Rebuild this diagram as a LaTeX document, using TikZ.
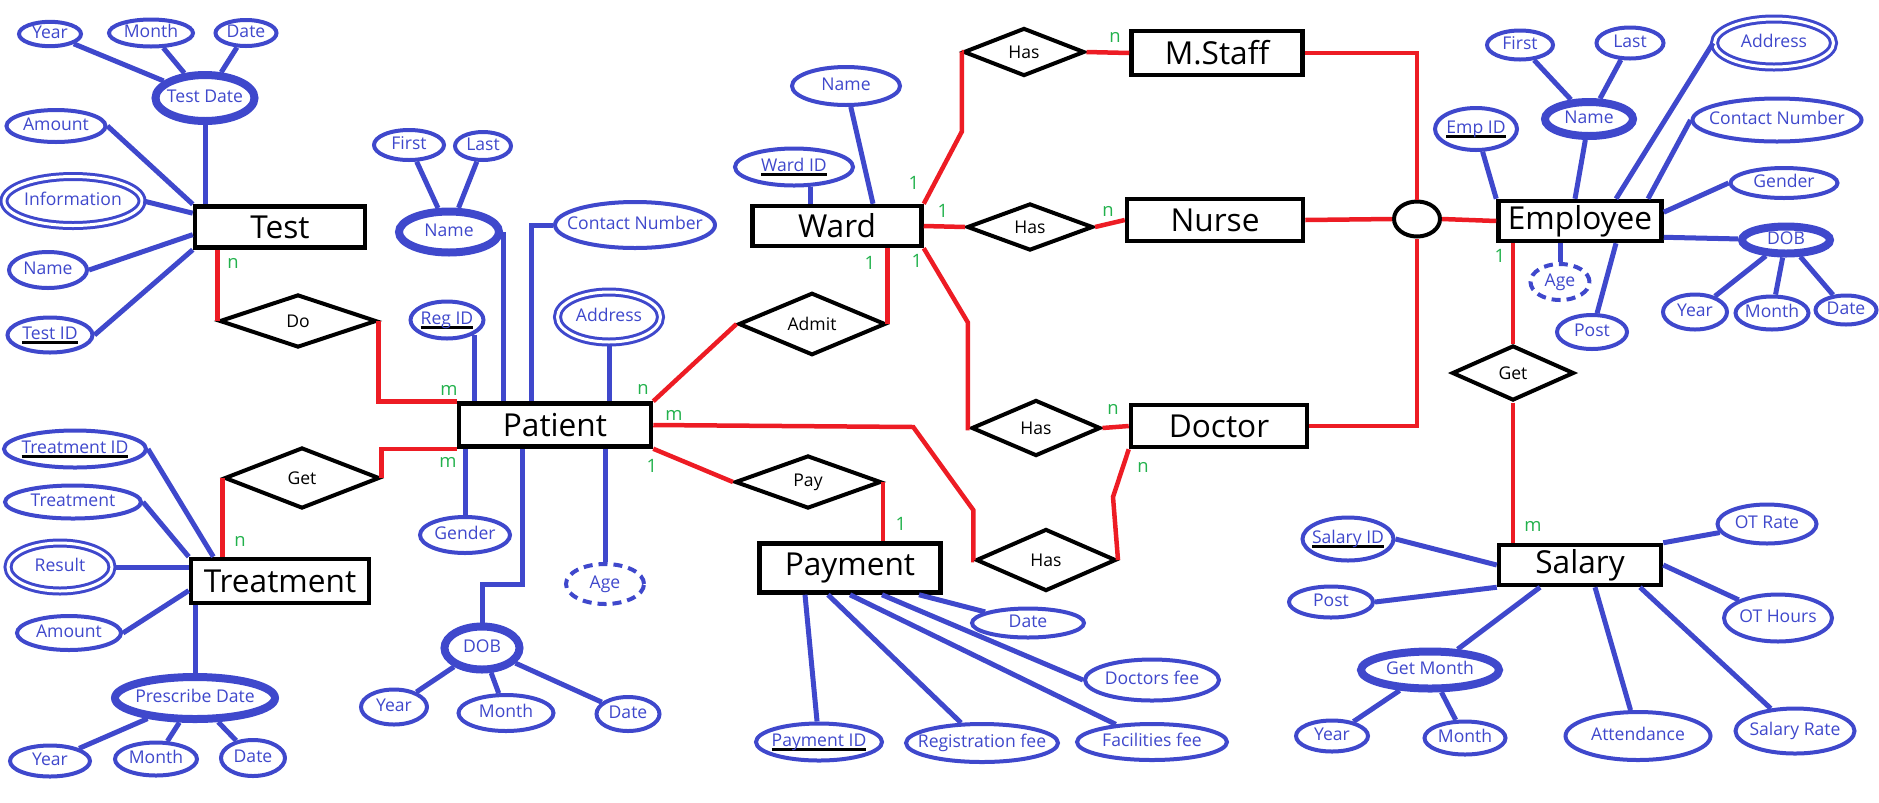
\documentclass[tikz,border=0pt]{standalone}
\usepackage{fontspec}
\setmainfont{Open Sans}
\usetikzlibrary{shapes.geometric}
\definecolor{erblue}{RGB}{63,72,204}
\definecolor{erred}{RGB}{237,28,36}
\definecolor{ergreen}{RGB}{34,177,76}
\newdimen\pxl
\pxl=0.02cm
\newcommand{\attrfont}{\fontsize{10}{12}\selectfont}
\newcommand{\entfont}{\fontsize{18}{21}\selectfont}
\newcommand{\relfont}{\fontsize{10}{12}\selectfont}
\newcommand{\cardfont}{\fontsize{10.5}{12}\selectfont}
\newcommand{\zt}[1]{\hbox to 0pt{\hss#1\hss}}
\newcommand{\kt}[1]{\zt{\setbox0\hbox{#1}\rlap{\color{black}\rule[-2.2pt]{\wd0}{1.3pt}}\box0}}
\tikzset{
  sz/.style 2 args={minimum width=#1\pxl, minimum height=#2\pxl},
  attr/.style={ellipse, draw=erblue, line width=4\pxl, fill=white, text=erblue,
    inner sep=0pt, font=\attrfont, text height=7.6pt, text depth=2.2pt},
  multi/.style={attr, line width=8\pxl},
  dattr/.style={attr, line width=3\pxl, double=white, double distance=3\pxl},
  derived/.style={attr, dash pattern=on 9\pxl off 6\pxl},
  entity/.style={rectangle, draw=black, line width=4.5\pxl, fill=white, inner sep=0pt, font=\entfont},
  rel/.style={diamond, draw=black, line width=4\pxl, fill=white, inner sep=0pt, font=\relfont},
  isa/.style={ellipse, draw=black, line width=4\pxl, fill=white, inner sep=0pt},
  link/.style={draw=erblue, line width=5\pxl},
  rlink/.style={draw=erred, line width=4.5\pxl},
  card/.style={text=ergreen, inner sep=0pt, font=\cardfont}
}

\begin{document}
\begin{tikzpicture}[x=0.02cm, y=-0.02cm]
  \useasboundingbox (0,0) rectangle (1879,802);

  \node[entity, sz={170}{41}] (test) at (280,227) {Test};
  \node[entity, sz={192}{43}] (patient) at (555,425) {Patient};
  \node[entity, sz={178}{44}] (treatment) at (280,581) {Treatment};
  \node[entity, sz={169}{40}] (ward) at (837,226) {Ward};
  \node[entity, sz={181}{49}] (payment) at (850,568) {Payment};
  \node[entity, sz={171}{44}] (mstaff) at (1217,53) {M.Staff};
  \node[entity, sz={176}{42}] (nurse) at (1215,220) {Nurse};
  \node[entity, sz={176}{42}] (doctor) at (1219,426) {Doctor};
  \node[entity, sz={163}{40}] (employee) at (1580,221) {Employee};
  \node[entity, sz={162}{40}] (salary) at (1580,565) {Salary};

  \node[rel, sz={157}{53}] (do) at (298,321) {Do};
  \node[rel, sz={155}{61}] (getrx) at (302,478) {Get};
  \node[rel, sz={147}{51}] (admit) at (812,324) {Admit};
  \node[rel, sz={146}{53}] (pay) at (808,482) {Pay};
  \node[rel, sz={121}{48}] (hasms) at (1024,52) {Has};
  \node[rel, sz={126}{47}] (hasnu) at (1030,227) {Has};
  \node[rel, sz={129}{56}] (hasdr) at (1036,428) {Has};
  \node[rel, sz={140}{62}] (haspt) at (1046,560) {Has};
  \node[rel, sz={122}{55}] (getsal) at (1513,373) {Get};
  \node[isa, sz={46}{35}] (isa) at (1417,219) {};

  \node[attr, sz={62}{24}] (teyear) at (50,34) {\zt{Year}};
  \node[attr, sz={84}{27}] (temonth) at (151,33) {\zt{Month}};
  \node[attr, sz={61}{26}] (teday) at (246,33) {\zt{Date}};
  \node[multi, sz={99}{46}] (tedate) at (205,98) {\zt{Test Date}};
  \node[attr, sz={99}{32}] (teamount) at (56,126) {\zt{Amount}};
  \node[dattr, sz={138}{49}] (teinfo) at (73,201) {\zt{Information}};
  \node[attr, sz={78}{36}] (tename) at (48,270) {\zt{Name}};
  \node[attr, sz={85}{35}] (teid) at (50,335) {\kt{Test ID}};

  \node[attr, sz={70}{30}] (pfirst) at (409,145) {\zt{First}};
  \node[attr, sz={56}{28}] (plast) at (483,146) {\zt{Last}};
  \node[multi, sz={100}{41}] (pname) at (449,232) {\zt{Name}};
  \node[attr, sz={160}{46}] (pcontact) at (635,225) {\zt{Contact Number}};
  \node[attr, sz={73}{37}] (pregid) at (447,320) {\kt{Reg ID}};
  \node[dattr, sz={103}{50}] (paddr) at (609,317) {\zt{Address}};
  \node[attr, sz={90}{36}] (pgender) at (465,535) {\zt{Gender}};
  \node[derived, sz={78}{40}] (page) at (605,584) {\zt{Age}};
  \node[multi, sz={75}{43}] (pdob) at (482,648) {\zt{DOB}};
  \node[attr, sz={66}{35}] (pdyear) at (394,707) {\zt{Year}};
  \node[attr, sz={95}{36}] (pdmonth) at (506,713) {\zt{Month}};
  \node[attr, sz={63}{34}] (pdday) at (628,714) {\zt{Date}};

  \node[attr, sz={142}{37}] (trid) at (75,449) {\kt{Treatment ID}};
  \node[attr, sz={136}{33}] (trname) at (73,502) {\zt{Treatment}};
  \node[dattr, sz={104}{48}] (trresult) at (60,567) {\zt{Result}};
  \node[attr, sz={104}{34}] (tramount) at (69,633) {\zt{Amount}};
  \node[multi, sz={160}{42}] (trdate) at (195,698) {\zt{Prescribe Date}};
  \node[attr, sz={80}{31}] (tryear) at (50,761) {\zt{Year}};
  \node[attr, sz={82}{33}] (trmonth) at (156,759) {\zt{Month}};
  \node[attr, sz={64}{36}] (trday) at (253,758) {\zt{Date}};

  \node[attr, sz={108}{38}] (wname) at (846,86) {\zt{Name}};
  \node[attr, sz={118}{37}] (wid) at (794,167) {\kt{Ward ID}};

  \node[attr, sz={112}{29}] (pydate) at (1028,623) {\zt{Date}};
  \node[attr, sz={134}{41}] (pydoc) at (1152,680) {\zt{Doctors fee}};
  \node[attr, sz={126}{37}] (pyid) at (819,742) {\kt{Payment ID}};
  \node[attr, sz={152}{38}] (pyreg) at (982,743) {\zt{Registration fee}};
  \node[attr, sz={150}{36}] (pyfac) at (1152,742) {\zt{Facilities fee}};

  \node[attr, sz={66}{29}] (efirst) at (1520,45) {\zt{First}};
  \node[attr, sz={67}{31}] (elast) at (1630,43) {\zt{Last}};
  \node[multi, sz={88}{34}] (ename) at (1589,119) {\zt{Name}};
  \node[dattr, sz={119}{48}] (eaddr) at (1774,43) {\zt{Address}};
  \node[attr, sz={169}{43}] (econtact) at (1777,120) {\zt{Contact Number}};
  \node[attr, sz={82}{42}] (eid) at (1476,129) {\kt{Emp ID}};
  \node[attr, sz={107}{30}] (egender) at (1784,183) {\zt{Gender}};
  \node[multi, sz={88}{27}] (edob) at (1786,240) {\zt{DOB}};
  \node[attr, sz={64}{35}] (eyear) at (1695,312) {\zt{Year}};
  \node[attr, sz={73}{33}] (emonth) at (1772,313) {\zt{Month}};
  \node[attr, sz={61}{29}] (eday) at (1846,310) {\zt{Date}};
  \node[derived, sz={59}{36}] (eage) at (1560,282) {\zt{Age}};
  \node[attr, sz={70}{34}] (epost) at (1592,332) {\zt{Post}};

  \node[attr, sz={91}{43}] (sid) at (1348,539) {\kt{Salary ID}};
  \node[attr, sz={84}{31}] (spost) at (1331,602) {\zt{Post}};
  \node[multi, sz={138}{37}] (sgetmonth) at (1430,670) {\zt{Get Month}};
  \node[attr, sz={72}{31}] (syear) at (1332,736) {\zt{Year}};
  \node[attr, sz={81}{33}] (smonth) at (1465,738) {\zt{Month}};
  \node[attr, sz={145}{48}] (satt) at (1638,736) {\zt{Attendance}};
  \node[attr, sz={99}{39}] (sotrate) at (1767,524) {\zt{OT Rate}};
  \node[attr, sz={108}{47}] (sothours) at (1778,618) {\zt{OT Hours}};
  \node[attr, sz={119}{45}] (srate) at (1795,731) {\zt{Salary Rate}};

  \draw[rlink] (do.west |- test.south) -- (do.west);
  \draw[rlink] (do.east) |- (patient.north west);
  \draw[rlink] (patient.south west) -| (getrx.east);
  \draw[rlink] (getrx.west) -- (getrx.west |- treatment.north);
  \draw[rlink] (patient.north east) -- (admit.west);
  \draw[rlink] (admit.east) -- (admit.east |- ward.south);
  \draw[rlink] (patient.south east) -- (pay.west);
  \draw[rlink] (pay.east) -- (pay.east |- payment.north);
  \draw[rlink] (ward.north east) -- ++(38,-72) |- (hasms.west);
  \draw[rlink] (hasms.east) -- (mstaff.west);
  \draw[rlink] (ward.east) -- (hasnu.west);
  \draw[rlink] (hasnu.east) -- (nurse.west);
  \draw[rlink] (ward.south east) -- ++(44,74) |- (hasdr.west);
  \draw[rlink] (hasdr.east) -- (doctor.west);
  \draw[rlink] (patient.east) -- ++(260,2) -- ++(60,83) |- (haspt.west);
  \draw[rlink] (haspt.east) -- ++(-5,-63) -- (doctor.south west);
  \draw[rlink] (mstaff.east) -| (isa.north);
  \draw[rlink] (nurse.east) -- (isa.west);
  \draw[rlink] (doctor.east) -| (isa.south);
  \draw[rlink] (isa.east) -- (employee.west);
  \draw[rlink] (getsal.north) -- (getsal.north |- employee.south);
  \draw[rlink] (getsal.south) -- (getsal.south |- salary.north);

  \draw[link] (teyear) -- (tedate);
  \draw[link] (temonth) -- (tedate);
  \draw[link] (teday) -- (tedate);
  \draw[link] (tedate) -- (tedate |- test.north);
  \draw[link] (teamount.east) -- (test.north west);
  \draw[link] (teinfo.east) -- (test.171);
  \draw[link] (tename.east) -- (test.185);
  \draw[link] (teid.east) -- (test.south west);

  \draw[link] (pfirst) -- (pname);
  \draw[link] (plast) -- (pname);
  \draw[link] (pname.east) -- (pname.east |- patient.north);
  \draw[link] (pcontact.west) -- ++(-22,0) coordinate (pcbend) -- (pcbend |- patient.north);
  \draw[link] (pregid.south east) -- (pregid.south east |- patient.north);
  \draw[link] (paddr) -- (paddr |- patient.north);
  \draw[link] (pgender) -- (pgender |- patient.south);
  \draw[link] (page) -- (page |- patient.south);
  \draw[link] (pdob.north) -- ++(0,-38) -- ++(40,0) coordinate (pdbend) -- (pdbend |- patient.south);
  \draw[link] (pdob) -- (pdyear);
  \draw[link] (pdob) -- (pdmonth);
  \draw[link] (pdob) -- (pdday);

  \draw[link] (trid.east) -- (treatment.160);
  \draw[link] (trname.east) -- (treatment.north west);
  \draw[link] (trresult) -- (trresult -| treatment.west);
  \draw[link] (tramount.east) -- (treatment.186);
  \draw[link] (trdate) -- (trdate |- treatment.south);
  \draw[link] (trdate) -- (tryear);
  \draw[link] (trdate) -- (trmonth);
  \draw[link] (trdate) -- (trday);

  \draw[link] (wid.-50) -- (wid.-50 |- ward.north);
  \draw[link] (wname) -- ([xshift=36\pxl]ward.north);

  \draw[link] (pyid) -- ([xshift=-45\pxl]payment.south);
  \draw[link] (pyreg) -- ([xshift=-22\pxl]payment.south);
  \draw[link] (pyfac) -- (payment.south);
  \draw[link] (pydoc.west) -- ([xshift=32\pxl]payment.south);
  \draw[link] (pydate) -- ([xshift=69\pxl]payment.south);

  \draw[link] (eid) -- (employee.north west);
  \draw[link] (efirst) -- (ename);
  \draw[link] (elast) -- (ename);
  \draw[link] (ename) -- ([xshift=-5\pxl]employee.north);
  \draw[link] (eaddr.west) -- ([xshift=36\pxl]employee.north);
  \draw[link] (econtact.west) -- ([xshift=68\pxl]employee.north);
  \draw[link] (egender.west) -- (employee.6);
  \draw[link] (edob) -- (employee.-11);
  \draw[link] (edob) -- (eyear);
  \draw[link] (edob) -- (emonth);
  \draw[link] (edob) -- (eday);
  \draw[link] (eage) -- (eage |- employee.south);
  \draw[link] (epost) -- ([xshift=36\pxl]employee.south);

  \draw[link] (sid.east) -- (salary.west);
  \draw[link] (spost.east) -- (salary.south west);
  \draw[link] (sgetmonth) -- ([xshift=-40\pxl]salary.south);
  \draw[link] (satt) -- ([xshift=15\pxl]salary.south);
  \draw[link] (srate) -- ([xshift=60\pxl]salary.south);
  \draw[link] (sothours) -- (salary.east);
  \draw[link] (sotrate) -- (salary.north east);
  \draw[link] (sgetmonth) -- (syear);
  \draw[link] (sgetmonth) -- (smonth);

  \node[card] (ctest) at (233,263) {n};
  \node[card] (cpatdo) at (449,390) {m};
  \node[card] (cpatget) at (448,462) {m};
  \node[card] (ctreat) at (240,541) {n};
  \node[card] (cpatadm) at (643,389) {n};
  \node[card] (cpathas) at (674,415) {m};
  \node[card] (cpatpay) at (652,466) {1};
  \node[card] (cpayment) at (901,524) {1};
  \node[card] (cwardms) at (914,183) {1};
  \node[card] (cwardnu) at (943,211) {1};
  \node[card] (cwardadm) at (870,263) {1};
  \node[card] (cwarddr) at (917,261) {1};
  \node[card] (cmstaff) at (1115,37) {n};
  \node[card] (cnurse) at (1108,211) {n};
  \node[card] (cdoctor) at (1113,409) {n};
  \node[card] (cdocpt) at (1143,467) {n};
  \node[card] (cemp) at (1500,256) {1};
  \node[card] (csal) at (1533,526) {m};
\end{tikzpicture}
\end{document}
